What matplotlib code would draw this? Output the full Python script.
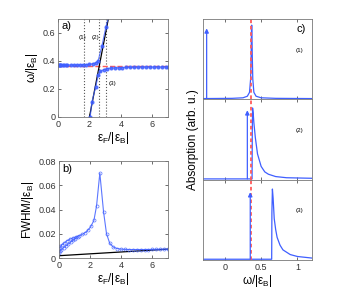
import matplotlib
matplotlib.use('Agg')
import matplotlib.pyplot as plt
import numpy as np

plt.rcParams['font.family'] = ['Liberation Sans', 'DejaVu Sans']
plt.rcParams['mathtext.default'] = 'regular'

blue = '#3f5fff'
red = '#ff5a5a'

# panel a) peak positions
a_up_x = [0, 0.05, 0.1, 0.15, 0.2, 0.3, 0.4, 0.5, 0.6, 0.8, 1.0, 1.2, 1.4, 1.6, 1.8, 2.0, 2.2, 2.4, 2.55, 2.8, 3.05, 3.3]
a_up_y = [0.371, 0.371, 0.371, 0.371, 0.371, 0.371, 0.371, 0.371, 0.371, 0.371, 0.371, 0.372, 0.372, 0.373, 0.374, 0.376, 0.38, 0.387, 0.40, 0.51, 0.645, 0.75]
a_lo_x = [2.05, 2.15, 2.4, 2.56, 2.7, 2.9, 3.1, 3.35, 3.6, 3.85, 4.1, 4.35, 4.6, 4.85, 5.1, 5.35, 5.6, 5.85, 6.1, 6.35, 6.6, 6.85, 7.0]
a_lo_y = [0.0, 0.105, 0.216, 0.30, 0.325, 0.338, 0.345, 0.349, 0.351, 0.352, 0.353, 0.354, 0.355, 0.355, 0.356, 0.356, 0.357, 0.357, 0.357, 0.357, 0.357, 0.358, 0.358]
bare_x = [2.0, 3.2]
bare_y = [0.0, 0.7]
ref_level = 0.366
cuts = [1.67, 2.59, 3.05]

# panel b) widths
b_x = [0, 0.1, 0.2, 0.35, 0.5, 0.7, 0.9, 1.1, 1.3, 1.5, 1.7, 1.9, 2.05, 2.25, 2.42, 2.63, 2.87, 3.06, 3.27, 3.5, 3.75, 4.0, 4.25, 4.5, 4.75, 5.0, 5.25, 5.5, 5.75, 6.0, 6.25, 6.5, 6.75, 7.0]
b_y = [0.008, 0.0095, 0.011, 0.0125, 0.014, 0.0155, 0.0165, 0.0175, 0.0185, 0.0195, 0.021, 0.0235, 0.026, 0.031, 0.043, 0.070, 0.038, 0.020, 0.012, 0.009, 0.0078, 0.0073, 0.0071, 0.007, 0.007, 0.007, 0.007, 0.007, 0.007, 0.0071, 0.0071, 0.0072, 0.0072, 0.0072]
b_lo_x = [0, 0.05, 0.15, 0.3, 0.45, 0.6, 0.75, 0.9, 1.05, 1.2]
b_lo_y = [0.004, 0.0055, 0.007, 0.0085, 0.010, 0.0115, 0.013, 0.0145, 0.016, 0.0175]
b_bare_x = [0, 7]
b_bare_y = [0.0019, 0.0073]

# panel c) spectra
c1_x = [-0.3, 0.1, 0.25, 0.31, 0.34, 0.355, 0.362, 0.368, 0.372, 0.378, 0.385, 0.4, 0.43, 0.5, 0.7, 1.2]
c1_y = [0.0, 0.003, 0.01, 0.03, 0.08, 0.25, 0.55, 0.94, 0.94, 0.55, 0.25, 0.08, 0.03, 0.01, 0.003, 0.0]
c2_x = [-0.3, 0.3, 0.375, 0.378, 0.382, 0.39, 0.4, 0.42, 0.45, 0.5, 0.55, 0.6, 0.7, 0.85, 1.2]
c2_y = [0.0, 0.0, 0.0, 0.6, 0.91, 0.85, 0.72, 0.53, 0.32, 0.16, 0.09, 0.06, 0.03, 0.015, 0.008]
c3_x = [-0.3, 0.6, 0.645, 0.648, 0.655, 0.665, 0.68, 0.7, 0.72, 0.76, 0.8, 0.9, 1.0, 1.2]
c3_y = [0.0, 0.0, 0.0, 0.6, 0.9, 0.78, 0.52, 0.38, 0.28, 0.18, 0.12, 0.06, 0.035, 0.015]
arrow_x = [-0.25, 0.31, 0.35]
arrow_h = [0.9, 0.88, 0.86]
c_labels = ['(1)', '(2)', '(3)']
c_ref = 0.365

fig = plt.figure(figsize=(3.59, 2.90), dpi=100)


def style(ax):
    ax.tick_params(direction='in', labelsize=6.5, length=2, width=0.5, pad=2,
                   top=True, right=True, colors='#333333')
    for s in ax.spines.values():
        s.set_linewidth(0.6)
        s.set_color('#777777')


ax = fig.add_axes([0.1616, 0.5966, 0.3064, 0.338])
for c in cuts:
    ax.axvline(c, color='#555555', ls=':', lw=0.8)
ax.axhline(ref_level, color=red, ls='--', lw=1.0)
ax.plot(bare_x, bare_y, color='black', lw=0.9)
ax.plot(a_up_x, a_up_y, '-o', color=blue, lw=0.8, ms=2, alpha=0.8)
ax.plot(a_lo_x, a_lo_y, '-o', color=blue, lw=0.8, ms=2, alpha=0.8)
ax.text(1.3, 0.56, '(1)', fontsize=4.5)
ax.text(2.15, 0.56, '(2)', fontsize=4.5)
ax.text(3.2, 0.23, '(3)', fontsize=4.5)
ax.text(0.2, 0.63, 'a)', fontsize=8)
ax.set_xlim(0, 7)
ax.set_ylim(0, 0.7)
ax.set_xticks([0, 2, 4, 6])
ax.set_yticks([0, 0.2, 0.4, 0.6])
ax.set_yticklabels(['0', '0.2', '0.4', '0.6'])
ax.set_xlabel(r'$\varepsilon_F/|\varepsilon_B|$', fontsize=8.5, labelpad=1)
ax.set_ylabel(r'$\omega/|\varepsilon_B|$', fontsize=8.5, labelpad=2)
style(ax)

bx = fig.add_axes([0.164, 0.1103, 0.3036, 0.3345])
bx.plot(b_bare_x, b_bare_y, color='black', lw=0.9)
bx.plot(b_x, b_y, '-o', color=blue, lw=0.8, ms=2.2, mfc='none', mew=0.5, alpha=0.85)
bx.plot(b_lo_x, b_lo_y, '-o', color=blue, lw=0.8, ms=2.2, mfc='none', mew=0.5, alpha=0.85)
bx.text(0.2, 0.071, 'b)', fontsize=8)
bx.set_xlim(0, 7)
bx.set_ylim(0, 0.08)
bx.set_xticks([0, 2, 4, 6])
bx.set_yticks([0, 0.02, 0.04, 0.06, 0.08])
bx.set_yticklabels(['0', '0.02', '0.04', '0.06', '0.08'])
bx.set_xlabel(r'$\varepsilon_F/|\varepsilon_B|$', fontsize=8.5, labelpad=1)
bx.set_ylabel(r'$FWHM/|\varepsilon_B|$', fontsize=8.5, labelpad=2)
style(bx)

spectra = [(c1_x, c1_y), (c2_x, c2_y), (c3_x, c3_y)]
h = 0.277
cax = []
for i, (sx, sy) in enumerate(spectra):
    cx = fig.add_axes([0.5655, 0.1034 + (2 - i) * h, 0.3036, h])
    cx.plot(sx, sy, color=blue, lw=0.9)
    cx.axvline(c_ref, color=red, ls='--', lw=1.3, dashes=(2, 1.5))
    cx.annotate('', xy=(arrow_x[i], arrow_h[i]), xytext=(arrow_x[i], 0),
                arrowprops=dict(arrowstyle='-|>', color=blue, lw=0.9,
                                mutation_scale=6, shrinkA=0, shrinkB=0))
    cx.text(0.98, 0.6, c_labels[i], fontsize=4.5)
    cx.set_xlim(-0.3, 1.2)
    cx.set_ylim(-0.01, 1.02)
    cx.set_yticks([])
    cx.set_xticks([0, 0.5, 1])
    style(cx)
    cx.tick_params(right=False, left=False)
    if i < 2:
        cx.set_xticklabels([])
    cax.append(cx)
cax[0].text(1.12, 0.86, 'c)', fontsize=8, ha='right')
cax[2].set_xticklabels(['0', '0.5', '1'])
cax[2].set_xlabel(r'$\omega/|\varepsilon_B|$', fontsize=8.5, labelpad=1)
cax[1].set_ylabel('Absorption (arb. u.)', fontsize=8.5, labelpad=3)

fig.savefig('out.png', dpi=100)
